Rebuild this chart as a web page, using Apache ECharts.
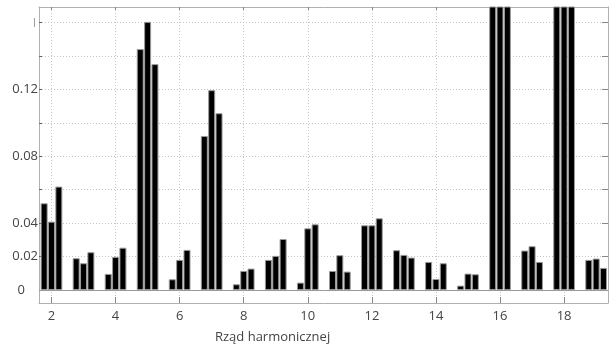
<!DOCTYPE html>
<html>
<head>
<meta charset="utf-8">
<script src="https://cdn.jsdelivr.net/npm/echarts@6/dist/echarts.min.js"></script>
<style>
  html, body { margin: 0; padding: 0; background: #fff; }
  #container { width: 609px; height: 351px; }
</style>
</head>
<body>
<div id="container"></div>
<script>
const harmonics = [2, 3, 4, 5, 6, 7, 8, 9, 10, 11, 12, 13, 14, 15, 16, 17, 18, 19]

// three measurements per harmonic (16 and 18 run off the top of the plot)
const seriesA = [0.0519, 0.0190, 0.0096, 0.1442, 0.0064, 0.0922, 0.0034, 0.0180, 0.0044, 0.0114, 0.0387, 0.0238, 0.0168, 0.0026, 0.25, 0.0236, 0.25, 0.0180]
const seriesB = [0.0409, 0.0160, 0.0198, 0.1605, 0.0180, 0.1196, 0.0114, 0.0204, 0.0369, 0.0208, 0.0387, 0.0210, 0.0066, 0.0098, 0.25, 0.0262, 0.25, 0.0188]
const seriesC = [0.0619, 0.0226, 0.0253, 0.1352, 0.0240, 0.1058, 0.0128, 0.0305, 0.0393, 0.0110, 0.0429, 0.0194, 0.0160, 0.0094, 0.25, 0.0168, 0.25, 0.0132]

const xTicks = [2, 4, 6, 8, 10, 12, 14, 16, 18]
const yTicks = [0, 0.02, 0.04, 0.06, 0.08, 0.10, 0.12, 0.14, 0.16]
const yLabels = { 0: '{z|0}', 0.02: '0.02', 0.04: '0.04', 0.08: '0.08', 0.12: '0.12', 0.16: '{bar||}' }

const xMin = 1.61
const xMax = 19.37
const yMin = -0.0078
const yMax = 0.1694

const frameColor = '#b0b0b0'
const gridColor = '#c4c4c4'
const textColor = '#444'

const myChart = echarts.init(document.getElementById('container'), null, { renderer: 'canvas' })

const makeBar = (values) => ({
    type: 'bar',
    xAxisIndex: 0,
    yAxisIndex: 0,
    data: harmonics.map((h, i) => [h, values[i]]),
    barWidth: 7,
    barGap: '5%',
    clip: true,
    itemStyle: {
        color: '#000',
        borderColor: '#999',
        borderWidth: 1
    }
})

const bars = [makeBar(seriesA), makeBar(seriesB), makeBar(seriesC)]
bars[0].markLine = {
    silent: true,
    symbol: 'none',
    label: { show: false },
    lineStyle: { color: '#999', type: 'solid', width: 1 },
    data: [{ yAxis: 0 }]
}

const option = {
    animation: false,
    backgroundColor: '#fff',
    textStyle: { fontFamily: 'Open Sans' },
    title: {
        text: 'Rząd harmonicznej',
        left: 215,
        top: 331,
        padding: 0,
        textStyle: {
            fontFamily: 'Open Sans',
            fontSize: 13,
            fontWeight: 'normal',
            color: textColor
        }
    },
    grid: {
        left: 39,
        top: 7,
        right: 1,
        bottom: 48,
        containLabel: false
    },
    xAxis: [
        {
            type: 'value',
            position: 'bottom',
            min: xMin,
            max: xMax,
            axisLine: { show: true, onZero: false, lineStyle: { color: frameColor } },
            axisTick: {
                show: true,
                inside: true,
                length: 6,
                customValues: xTicks,
                lineStyle: { color: '#888' }
            },
            axisLabel: {
                customValues: xTicks,
                color: textColor,
                fontSize: 13,
                margin: 7
            },
            splitLine: {
                show: true,
                lineStyle: { color: gridColor, type: [1, 2] }
            }
        },
        {
            type: 'value',
            position: 'top',
            min: xMin,
            max: xMax,
            axisLine: { show: true, onZero: false, lineStyle: { color: frameColor } },
            axisTick: {
                show: true,
                inside: true,
                length: 3,
                customValues: xTicks,
                lineStyle: { color: '#888' }
            },
            axisLabel: { show: false },
            splitLine: { show: false }
        }
    ],
    yAxis: [
        {
            type: 'value',
            position: 'left',
            min: yMin,
            max: yMax,
            axisLine: { show: true, onZero: false, lineStyle: { color: frameColor } },
            axisTick: {
                show: true,
                inside: true,
                length: 3,
                customValues: yTicks,
                lineStyle: { color: '#666' }
            },
            axisLabel: {
                customValues: yTicks,
                color: textColor,
                fontSize: 13,
                margin: 1,
                formatter: (v) => {
                    const key = Math.round(v * 100) / 100
                    return yLabels[key] !== undefined ? yLabels[key] : ''
                },
                rich: {
                    z: { fontSize: 13, color: textColor, padding: [0, 13, 0, 0] },
                    bar: { fontSize: 9, color: '#666', padding: [0, 1, 0, 0] }
                }
            },
            splitLine: {
                show: true,
                lineStyle: { color: gridColor, type: [1, 2] }
            }
        },
        {
            type: 'value',
            position: 'right',
            min: yMin,
            max: yMax,
            axisLine: { show: true, onZero: false, lineStyle: { color: frameColor } },
            axisTick: {
                show: true,
                inside: true,
                length: 6,
                customValues: yTicks,
                lineStyle: { color: '#888' }
            },
            axisLabel: { show: false },
            splitLine: { show: false }
        }
    ],
    series: bars
}

myChart.setOption(option)
</script>
</body>
</html>
